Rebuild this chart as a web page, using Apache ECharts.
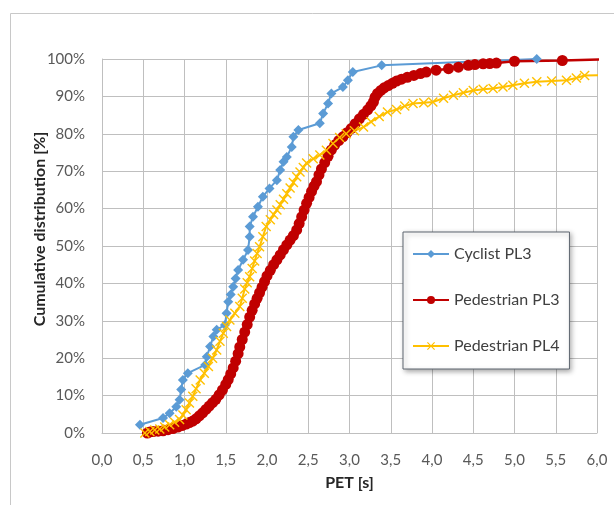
<!DOCTYPE html>
<html>
<head>
<meta charset="utf-8">
<script src="https://cdn.jsdelivr.net/npm/echarts@6/dist/echarts.min.js"></script>
<style>
html,body{margin:0;padding:0;background:#fff;}
#c{width:614px;height:505px;}
</style>
</head>
<body>
<div id="c"></div>
<script>
// Cyclist PL3
const cycX = [0.46,0.74,0.82,0.90,0.94,0.96,0.98,1.04,1.25,1.27,1.31,1.35,1.39,1.49,1.51,1.53,1.56,1.59,1.62,1.65,1.71,1.77,1.79,1.79,1.83,1.89,1.95,2.03,2.12,2.16,2.20,2.24,2.30,2.32,2.38,2.64,2.68,2.74,2.78,2.92,2.98,3.04,3.39,5.27];
const cycY = [2.2,4.0,5.3,7.0,8.9,11.6,14.2,16.0,18.2,20.4,23.1,25.8,27.6,28.9,32.0,35.1,37.0,39.1,41.3,43.6,46.3,48.9,52.5,55.2,57.8,60.5,63.2,65.4,67.6,70.3,72.5,73.8,76.5,79.2,81.0,82.8,85.4,88.1,90.8,92.5,94.3,96.5,98.3,100];
// Pedestrian PL3
const ped3X = [0.55,0.58,0.62,0.68,0.74,0.80,0.86,0.92,0.97,1.02,1.06,1.10,1.14,1.18,1.22,1.26,1.30,1.34,1.38,1.42,1.46,1.50,1.53,1.56,1.59,1.62,1.65,1.67,1.70,1.73,1.76,1.79,1.82,1.85,1.88,1.91,1.94,1.97,2.00,2.04,2.08,2.12,2.16,2.20,2.24,2.28,2.32,2.36,2.39,2.42,2.45,2.48,2.51,2.54,2.57,2.60,2.63,2.66,2.70,2.74,2.78,2.82,2.87,2.92,2.97,3.02,3.07,3.12,3.17,3.22,3.26,3.29,3.31,3.34,3.38,3.42,3.47,3.52,3.57,3.63,3.70,3.78,3.86,3.93,4.05,4.20,4.32,4.44,4.52,4.62,4.70,4.78,5.00,5.58,6.30];
const ped3Y = [0,0.3,0.4,0.5,0.6,0.9,1.2,1.6,2.0,2.4,2.8,3.2,3.8,4.6,5.4,6.3,7.2,8.1,9.0,10.2,11.5,13.0,14.3,15.8,17.4,19.2,21.2,23.0,25.0,27.0,29.0,31.0,32.8,34.5,36.0,37.5,39.0,40.5,42.0,43.5,45.0,46.3,47.6,49.0,50.3,51.6,52.8,54.3,56.0,57.8,59.6,61.4,63.0,64.6,66.0,67.2,69.0,70.6,72.3,74.0,75.7,77.0,78.2,79.2,80.3,81.4,82.7,84.0,85.2,86.4,87.5,88.5,89.8,90.8,91.6,92.3,92.9,93.5,94.1,94.6,95.1,95.6,96.1,96.5,97.0,97.4,97.8,98.3,98.5,98.7,98.8,98.9,99.4,99.6,100];
// Pedestrian PL4
const ped4X = [0.52,0.58,0.64,0.70,0.76,0.82,0.88,0.94,0.98,1.02,1.06,1.10,1.14,1.19,1.24,1.29,1.34,1.39,1.43,1.47,1.51,1.55,1.61,1.67,1.70,1.73,1.76,1.79,1.82,1.85,1.88,1.91,1.95,1.99,2.04,2.08,2.12,2.16,2.20,2.24,2.28,2.32,2.36,2.40,2.44,2.48,2.56,2.64,2.72,2.80,2.88,2.96,3.06,3.17,3.26,3.36,3.46,3.57,3.67,3.77,3.90,4.01,4.14,4.26,4.38,4.50,4.62,4.74,4.86,4.98,5.12,5.27,5.45,5.63,5.75,5.85,6.20];
const ped4Y = [0,0.4,0.8,1.1,1.6,2.2,2.9,3.6,4.8,6.2,8.0,9.8,11.8,14.2,16.0,17.8,20.0,22.2,24.5,26.7,28.5,30.2,32.0,33.8,36.0,38.5,40.2,41.8,44.0,46.0,48.0,49.8,52.5,55.2,57.0,58.4,59.6,61.0,62.5,64.0,65.5,67.0,68.5,69.8,71.0,72.2,73.3,74.3,75.6,77.4,79.0,80.0,80.8,81.8,83.2,84.6,85.8,86.5,87.4,88.1,88.3,88.5,89.5,90.3,91.0,91.6,91.9,92.1,92.5,93.0,93.5,93.9,94.1,94.3,94.9,95.6,95.7];

const seriesNames = ['Cyclist PL3','Pedestrian PL3','Pedestrian PL4'];
const xTickLabels = ['0,0','0,5','1,0','1,5','2,0','2,5','3,0','3,5','4,0','4,5','5,0','5,5','6,0'];
const yTickLabels = ['0%','10%','20%','30%','40%','50%','60%','70%','80%','90%','100%'];
const xTitle = 'PET [s]';
const yTitle = 'Cumulative distribution [%]';

const zip = (xs, ys) => xs.map((x, i) => [x, ys[i]]);
const FONT = 'Lato';
const xMark = 'path://M0,1L1,0L5,4L9,0L10,1L6,5L10,9L9,10L5,6L1,10L0,9L4,5Z';

const chart = echarts.init(document.getElementById('c'));
chart.setOption({
  animation: false,
  backgroundColor: '#fff',
  textStyle: {fontFamily: FONT},
  graphic: [{
    type: 'rect', left: 8, top: 11, z: -10, silent: true,
    shape: {width: 640, height: 540},
    style: {fill: 'none', stroke: '#c8c8c8', lineWidth: 1}
  }, {
    type: 'text', x: 40, y: 229, rotation: Math.PI / 2, silent: true,
    style: {text: yTitle, fill: '#262626', font: 'bold 16px Lato',
      textAlign: 'center', textVerticalAlign: 'middle'}
  }],
  grid: {left: 102, top: 59, right: 17, bottom: 72},
  xAxis: {
    type: 'value', min: 0, max: 6, interval: 0.5,
    name: xTitle, nameLocation: 'middle', nameGap: 42,
    nameTextStyle: {fontFamily: FONT, fontWeight: 'bold', fontSize: 16, color: '#262626'},
    axisLine: {show: true, lineStyle: {color: '#bfbfbf', width: 1}},
    axisTick: {show: false},
    axisLabel: {margin: 20, fontSize: 15, color: '#595959', fontFamily: FONT,
      formatter: v => xTickLabels[Math.round(v / 0.5)]},
    splitLine: {show: true, lineStyle: {color: '#bfbfbf', width: 1}}
  },
  yAxis: {
    type: 'value', min: 0, max: 100, interval: 10,
    axisLine: {show: true, lineStyle: {color: '#bfbfbf', width: 1}},
    axisTick: {show: false},
    axisLabel: {margin: 17, fontSize: 15, color: '#595959', fontFamily: FONT,
      formatter: v => yTickLabels[Math.round(v / 10)]},
    splitLine: {show: true, lineStyle: {color: '#bfbfbf', width: 1}}
  },
  legend: {
    orient: 'vertical', left: 403, top: 232,
    data: seriesNames,
    itemWidth: 36, itemHeight: 10, itemGap: 30,
    padding: [14, 10, 15, 9],
    backgroundColor: '#fff',
    borderColor: '#5f6670', borderWidth: 1,
    shadowColor: 'rgba(0,0,0,0.35)', shadowBlur: 5, shadowOffsetX: 2, shadowOffsetY: 2,
    textStyle: {fontFamily: FONT, fontSize: 16, color: '#404040'}
  },
  series: [
    {
      name: seriesNames[0], type: 'line', data: zip(cycX, cycY),
      symbol: 'diamond', symbolSize: 10, clip: true,
      lineStyle: {color: '#5B9BD5', width: 2},
      itemStyle: {color: '#5B9BD5'}
    },
    {
      name: seriesNames[1], type: 'line', data: zip(ped3X, ped3Y),
      symbol: 'circle', symbolSize: 11, clip: true,
      lineStyle: {color: '#C00000', width: 2.5},
      itemStyle: {color: '#C00000'}
    },
    {
      name: seriesNames[2], type: 'line', data: zip(ped4X, ped4Y),
      symbol: xMark, symbolSize: 10, clip: true,
      lineStyle: {color: '#FFC000', width: 2},
      itemStyle: {color: '#FFC000'}
    }
  ]
});
</script>
</body>
</html>
